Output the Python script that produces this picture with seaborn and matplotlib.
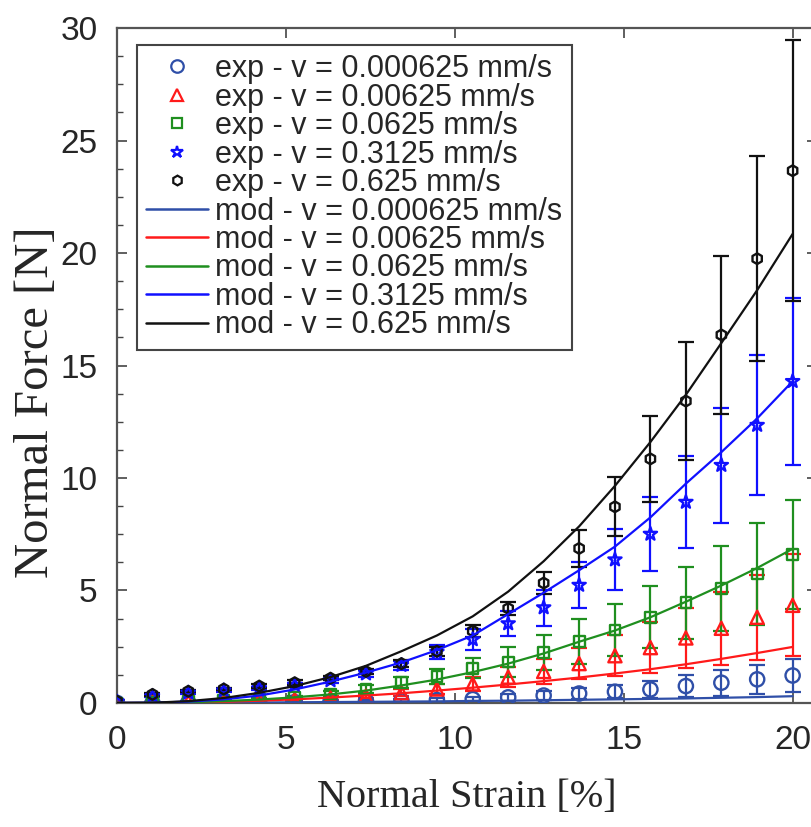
import matplotlib
matplotlib.use("Agg")
import matplotlib.pyplot as plt
from matplotlib.lines import Line2D
from matplotlib.ticker import MultipleLocator
import numpy as np
import pandas as pd
import seaborn as sns

# strain positions of the measurements [%]
strain = [0.0, 1.05, 2.11, 3.16, 4.21, 5.26, 6.32, 7.37, 8.42, 9.47,
          10.53, 11.58, 12.63, 13.68, 14.74, 15.79, 16.84, 17.89, 18.95, 20.0]

velocities = ["0.000625", "0.00625", "0.0625", "0.3125", "0.625"]
colors = ["#2f4fa8", "#ff1a1a", "#1f8f1f", "#1010ff", "#111111"]
markers = ["o", "^", "s", "*", "h"]

# experimental mean force [N]
exp_0000625 = [0.0, 0.0, 0.01, 0.02, 0.03, 0.04, 0.06, 0.08, 0.1, 0.13,
               0.17, 0.25, 0.33, 0.42, 0.5, 0.6, 0.75, 0.9, 1.05, 1.22]
exp_000625 = [0.0, 0.02, 0.04, 0.07, 0.11, 0.16, 0.22, 0.3, 0.45, 0.62,
              0.85, 1.15, 1.4, 1.75, 2.1, 2.46, 2.89, 3.32, 3.81, 4.34]
exp_00625 = [0.0, 0.03, 0.06, 0.1, 0.16, 0.25, 0.4, 0.62, 0.9, 1.18,
             1.54, 1.82, 2.25, 2.74, 3.24, 3.81, 4.45, 5.09, 5.73, 6.6]
exp_03125 = [0.05, 0.3, 0.45, 0.55, 0.65, 0.8, 1.0, 1.3, 1.68, 2.26,
             2.82, 3.53, 4.24, 5.24, 6.37, 7.51, 8.93, 10.57, 12.35, 14.3]
exp_0625 = [0.08, 0.38, 0.52, 0.62, 0.75, 0.9, 1.1, 1.4, 1.75, 2.3,
            3.2, 4.2, 5.33, 6.87, 8.72, 10.85, 13.42, 16.36, 19.75, 23.66]

# experimental standard deviation [N]
err_0000625 = [0.01, 0.01, 0.01, 0.02, 0.02, 0.03, 0.04, 0.05, 0.06, 0.08,
               0.1, 0.15, 0.2, 0.25, 0.3, 0.38, 0.5, 0.58, 0.64, 0.75]
err_000625 = [0.01, 0.01, 0.02, 0.03, 0.04, 0.05, 0.07, 0.1, 0.15, 0.22,
              0.3, 0.45, 0.55, 0.7, 0.9, 1.14, 1.35, 1.63, 1.9, 2.26]
err_00625 = [0.01, 0.02, 0.03, 0.04, 0.06, 0.08, 0.12, 0.16, 0.24, 0.33,
             0.45, 0.67, 0.78, 1.0, 1.14, 1.38, 1.59, 1.89, 2.27, 2.43]
err_03125 = [0.03, 0.05, 0.05, 0.06, 0.08, 0.1, 0.12, 0.15, 0.2, 0.3,
             0.45, 0.55, 0.8, 1.03, 1.35, 1.65, 2.05, 2.55, 3.1, 3.7]
err_0625 = [0.05, 0.05, 0.05, 0.05, 0.08, 0.1, 0.1, 0.12, 0.15, 0.2,
            0.25, 0.3, 0.5, 0.82, 1.32, 1.92, 2.63, 3.5, 4.55, 5.8]

# model prediction [N]
mod_0000625 = [0.0, 0.0, 0.01, 0.01, 0.02, 0.03, 0.04, 0.05, 0.06, 0.07,
               0.09, 0.1, 0.12, 0.14, 0.16, 0.18, 0.2, 0.23, 0.26, 0.3]
mod_000625 = [0.0, 0.005, 0.02, 0.05, 0.1, 0.16, 0.24, 0.33, 0.43, 0.55,
              0.68, 0.82, 0.97, 1.13, 1.31, 1.5, 1.72, 1.96, 2.22, 2.49]
mod_00625 = [0.0, 0.01, 0.03, 0.08, 0.15, 0.25, 0.38, 0.55, 0.78, 1.04,
             1.37, 1.75, 2.2, 2.72, 3.22, 3.81, 4.5, 5.22, 6.0, 6.85]
mod_03125 = [0.0, 0.01, 0.06, 0.16, 0.33, 0.6, 0.95, 1.35, 1.8, 2.35,
             3.0, 3.95, 4.9, 5.9, 6.95, 8.25, 9.75, 11.15, 12.65, 14.3]
mod_0625 = [0.0, 0.01, 0.08, 0.22, 0.45, 0.75, 1.15, 1.65, 2.3, 3.0,
            3.85, 4.95, 6.3, 7.85, 9.65, 11.6, 13.7, 16.0, 18.35, 20.85]

exp_all = [exp_0000625, exp_000625, exp_00625, exp_03125, exp_0625]
err_all = [err_0000625, err_000625, err_00625, err_03125, err_0625]
mod_all = [mod_0000625, mod_000625, mod_00625, mod_03125, mod_0625]

sns.set_style("ticks")
plt.rcParams["font.family"] = ["Liberation Sans", "DejaVu Sans"]

fig = plt.figure(figsize=(8.12, 8.27), dpi=100)
ax = fig.add_axes([0.1441, 0.15, 0.862, 0.816])

# long table for the model curves
mod_df = pd.DataFrame({
    "strain": strain * len(velocities),
    "force": sum(mod_all, []),
    "v": [v for v in velocities for _ in strain],
})

# experimental data with error bars
for v, c, m, y, e in zip(velocities, colors, markers, exp_all, err_all):
    ax.errorbar(strain, y, yerr=e, fmt="none", ecolor=c, elinewidth=1.6,
                capsize=6, capthick=1.6, zorder=2)
    size = {"o": 105, "^": 90, "s": 60, "*": 100, "h": 60}[m]
    sns.scatterplot(x=strain, y=y, marker=m, s=size, facecolor="none",
                    edgecolor=c, linewidth=1.7, ax=ax, legend=False, zorder=3)

sns.lineplot(data=mod_df, x="strain", y="force", hue="v", hue_order=velocities,
             palette=colors, linewidth=1.6, ax=ax, legend=False, zorder=4,
             sort=False, estimator=None)

ax.set_xlim(0, 20.72)
ax.set_ylim(0, 30)
ax.xaxis.set_major_locator(MultipleLocator(5))
ax.yaxis.set_major_locator(MultipleLocator(5))
ax.yaxis.set_minor_locator(MultipleLocator(1.25))
ax.tick_params(which="both", direction="in", top=True, right=True,
               labelsize=24, color="#444444")
ax.tick_params(axis="y", pad=14)
ax.tick_params(axis="x", pad=16)
ax.tick_params(which="major", length=7, width=1.2)
ax.tick_params(which="minor", length=4, width=1.0)
for s in ax.spines.values():
    s.set_color("#555555")
    s.set_linewidth(1.6)

ax.set_xlabel("Normal Strain [%]", fontsize=29, family="Liberation Serif")
ax.set_ylabel("Normal Force [N]", fontsize=35, family="Liberation Serif")
ax.xaxis.set_label_coords(0.5, -0.113)
ax.yaxis.set_label_coords(-0.085, 0.445)

# legend: experimental markers first, then model lines
handles = []
labels = []
for v, c, m in zip(velocities, colors, markers):
    ms = {"o": 9, "^": 9, "s": 7, "*": 9, "h": 7}[m]
    handles.append(Line2D([], [], linestyle="none", marker=m, markersize=ms,
                          markerfacecolor="none", markeredgecolor=c,
                          markeredgewidth=1.6))
    labels.append(f"exp - v = {v} mm/s")
for v, c in zip(velocities, colors):
    handles.append(Line2D([], [], color=c, linewidth=1.8))
    labels.append(f"mod - v = {v} mm/s")

leg = ax.legend(handles, labels, loc="upper left", bbox_to_anchor=(0.029, 0.975),
                borderaxespad=0, fontsize=22, labelspacing=-0.05, handlelength=2.0,
                handletextpad=0.25, borderpad=0.3, fancybox=False, framealpha=1)
leg.get_frame().set_edgecolor("#444444")
leg.get_frame().set_linewidth(1.5)

fig.savefig("out.png", dpi=100)
